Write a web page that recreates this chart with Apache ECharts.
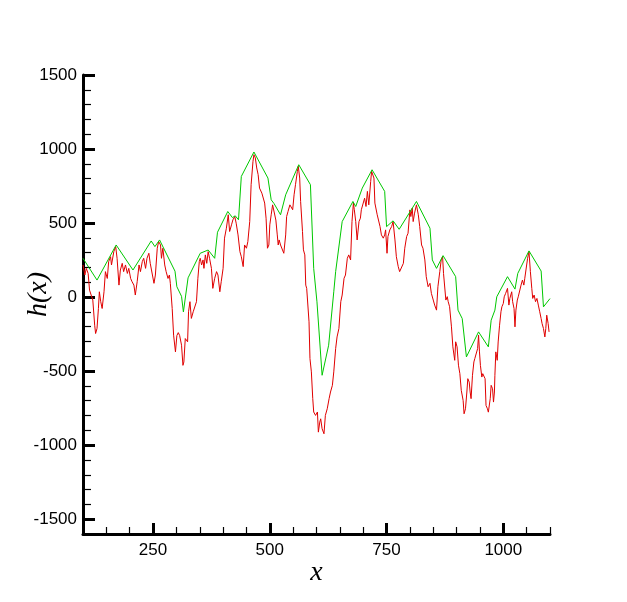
<!DOCTYPE html>
<html>
<head>
<meta charset="utf-8">
<script src="https://cdn.jsdelivr.net/npm/echarts@6/dist/echarts.min.js"></script>
<style>html,body{margin:0;padding:0;background:#fff}#c{width:627px;height:602px}</style>
</head>
<body>
<div id="c"></div>
<script>
const redX = [100,104,107,111,114,118,121,125,127,130,133,135,138,141,145,148,152,155,159,161,166,170,173,177,180,184,187,191,195,198,202,205,209,212,216,220,223,227,230,234,237,241,244,248,252,255,259,262,266,268,271,275,278,282,285,287,291,294,298,301,304,307,311,314,316,319,324,326,329,332,336,339,343,346,349,351,354,357,359,362,365,368,371,375,378,382,386,389,393,396,400,403,407,411,414,418,421,425,428,432,436,439,443,446,450,453,457,460,464,466,469,472,475,478,480,483,486,489,492,495,498,500,503,506,509,513,516,518,520,523,527,530,534,536,539,543,546,549,552,555,559,561,564,566,570,572,575,577,579,580,584,586,589,592,594,598,602,604,607,609,612,616,619,623,627,630,634,637,641,644,648,652,655,659,662,666,669,673,676,679,681,684,687,691,694,696,700,703,706,709,712,716,718,720,723,725,727,730,733,736,739,743,746,748,751,753,757,761,764,768,771,775,778,782,786,789,793,796,800,802,805,807,810,814,818,821,825,828,832,835,839,843,846,850,853,857,860,864,867,870,872,877,880,882,885,889,892,896,898,901,904,907,910,914,916,919,922,924,927,929,931,934,937,939,943,945,947,949,951,954,956,958,961,963,966,968,972,974,977,979,981,982,984,987,989,992,995,997,1000,1002,1005,1007,1009,1012,1014,1018,1020,1023,1025,1027,1030,1032,1035,1038,1041,1044,1046,1049,1052,1055,1058,1061,1063,1066,1069,1072,1075,1078,1081,1083,1086,1089,1091,1093,1096,1098];
const redY = [217,149,194,160,47,59,-20,-190,-246,-212,-77,36,-31,-77,36,172,126,240,273,217,307,341,262,81,183,228,172,217,160,194,126,104,81,14,104,217,172,240,262,194,262,296,228,217,93,149,330,375,352,262,330,217,172,126,149,93,-77,-257,-370,-260,-240,-260,-325,-461,-438,-280,-302,-99,-31,-144,-99,-110,-31,127,240,262,217,251,194,285,228,307,262,194,59,127,172,149,36,104,194,398,465,556,443,488,522,544,499,420,307,273,206,352,330,375,510,759,917,962,940,872,827,736,748,702,691,635,533,330,352,488,556,623,635,520,420,352,386,352,364,296,420,544,578,623,612,590,691,759,849,883,804,646,443,319,285,81,59,70,-167,-415,-505,-686,-776,-799,-776,-912,-844,-822,-889,-923,-799,-754,-686,-641,-596,-505,-348,-269,-212,-31,14,127,149,262,285,251,510,635,590,510,386,510,533,590,601,668,612,714,623,781,849,860,804,635,646,556,567,477,420,398,420,454,296,409,454,477,510,386,273,206,172,160,228,330,409,431,589,544,601,510,567,623,556,477,352,330,251,138,70,93,25,-20,-54,-88,70,172,251,273,160,-20,3,-31,-65,-201,-336,-427,-302,-336,-460,-517,-630,-698,-788,-754,-641,-551,-574,-641,-686,-528,-438,-415,-404,-348,-257,-370,-461,-540,-517,-506,-551,-732,-754,-777,-686,-596,-619,-709,-641,-528,-370,-427,-303,-190,-99,-65,-43,2,25,14,59,-54,-9,36,-31,-77,-201,-88,-20,2,-9,81,115,81,127,138,262,307,172,59,-9,14,-31,-9,-54,-99,-145,-178,-212,-269,-212,-122,-178,-235];
const greenX = [100,130,171,207,246,254,264,297,301,311,315,325,351,368,382,388,410,420,426,433,439,466,496,503,509,523,534,562,587,594,601,612,626,637,641,655,678,684,698,719,746,750,764,777,814,843,848,857,871,898,903,912,921,947,968,974,982,986,1009,1025,1031,1055,1081,1086,1100];
const greenY = [262,115,352,183,379,341,386,175,70,5,-100,130,296,318,262,438,578,537,549,522,815,980,804,657,632,556,691,894,759,194,-32,-528,-325,36,172,510,646,612,736,860,714,476,515,458,646,465,251,194,280,138,-88,-145,-404,-235,-336,-156,-88,2,138,54,160,312,176,-66,-10];
const xTickValues = [250,500,750,1000];
const yTickValues = [-1500,-1000,-500,0,500,1000,1500];

const redData = redX.map((x,i)=>[x, redY[i]]);
const greenData = greenX.map((x,i)=>[x, greenY[i]]);

const labelFont = {fontFamily:'"Liberation Sans", Arial, sans-serif', fontSize:17, color:'#000'};
const nameFont = {fontFamily:'"Liberation Serif", "DejaVu Serif", serif', fontStyle:'italic', fontSize:28, color:'#000'};
const plain = v => String(v);

const chart = echarts.init(document.getElementById('c'), null, {renderer:'canvas'});
chart.setOption({
  animation:false,
  backgroundColor:'#fff',
  grid:{left:83, right:77, top:75, bottom:68, containLabel:false, outerBoundsMode:'none'},
  xAxis:[
    {type:'value', min:100, max:1100, interval:50, position:'bottom',
     name:'x', nameLocation:'middle', nameGap:25, nameMoveOverlap:false, nameTextStyle:nameFont,
     axisLine:{show:true, onZero:false, lineStyle:{color:'#000', width:3}},
     axisTick:{show:true, inside:true, length:7, lineStyle:{color:'#000', width:1.2}},
     axisLabel:{show:true, customValues:xTickValues, margin:8, formatter:plain, ...labelFont},
     splitLine:{show:false}},
    {type:'value', min:100, max:1100, position:'bottom',
     axisLine:{show:false, onZero:false},
     axisTick:{show:true, inside:true, length:11, customValues:xTickValues, lineStyle:{color:'#000', width:3}},
     axisLabel:{show:false},
     splitLine:{show:false}}
  ],
  yAxis:[
    {type:'value', min:-1600, max:1500, interval:100, position:'left',
     name:'h(x)', nameLocation:'middle', nameGap:30, nameRotate:90, nameMoveOverlap:false,
     nameTextStyle:Object.assign({}, nameFont, {padding:[0,0,0,20]}),
     axisLine:{show:true, onZero:false, lineStyle:{color:'#000', width:3}},
     axisTick:{show:true, inside:true, length:8, lineStyle:{color:'#000', width:1.2}},
     axisLabel:{show:true, customValues:yTickValues, margin:6, formatter:plain, ...labelFont},
     splitLine:{show:false}},
    {type:'value', min:-1600, max:1500, position:'left',
     axisLine:{show:false, onZero:false},
     axisTick:{show:true, inside:true, length:12, customValues:yTickValues, lineStyle:{color:'#000', width:3}},
     axisLabel:{show:false},
     splitLine:{show:false}}
  ],
  series:[
    {type:'line', name:'h', data:redData, showSymbol:false, symbol:'none', xAxisIndex:0, yAxisIndex:0,
     lineStyle:{color:'#e00000', width:1}, z:2},
    {type:'line', name:'envelope', data:greenData, showSymbol:false, symbol:'none', xAxisIndex:0, yAxisIndex:0,
     lineStyle:{color:'#00c800', width:1}, z:3}
  ]
});
</script>
</body>
</html>
